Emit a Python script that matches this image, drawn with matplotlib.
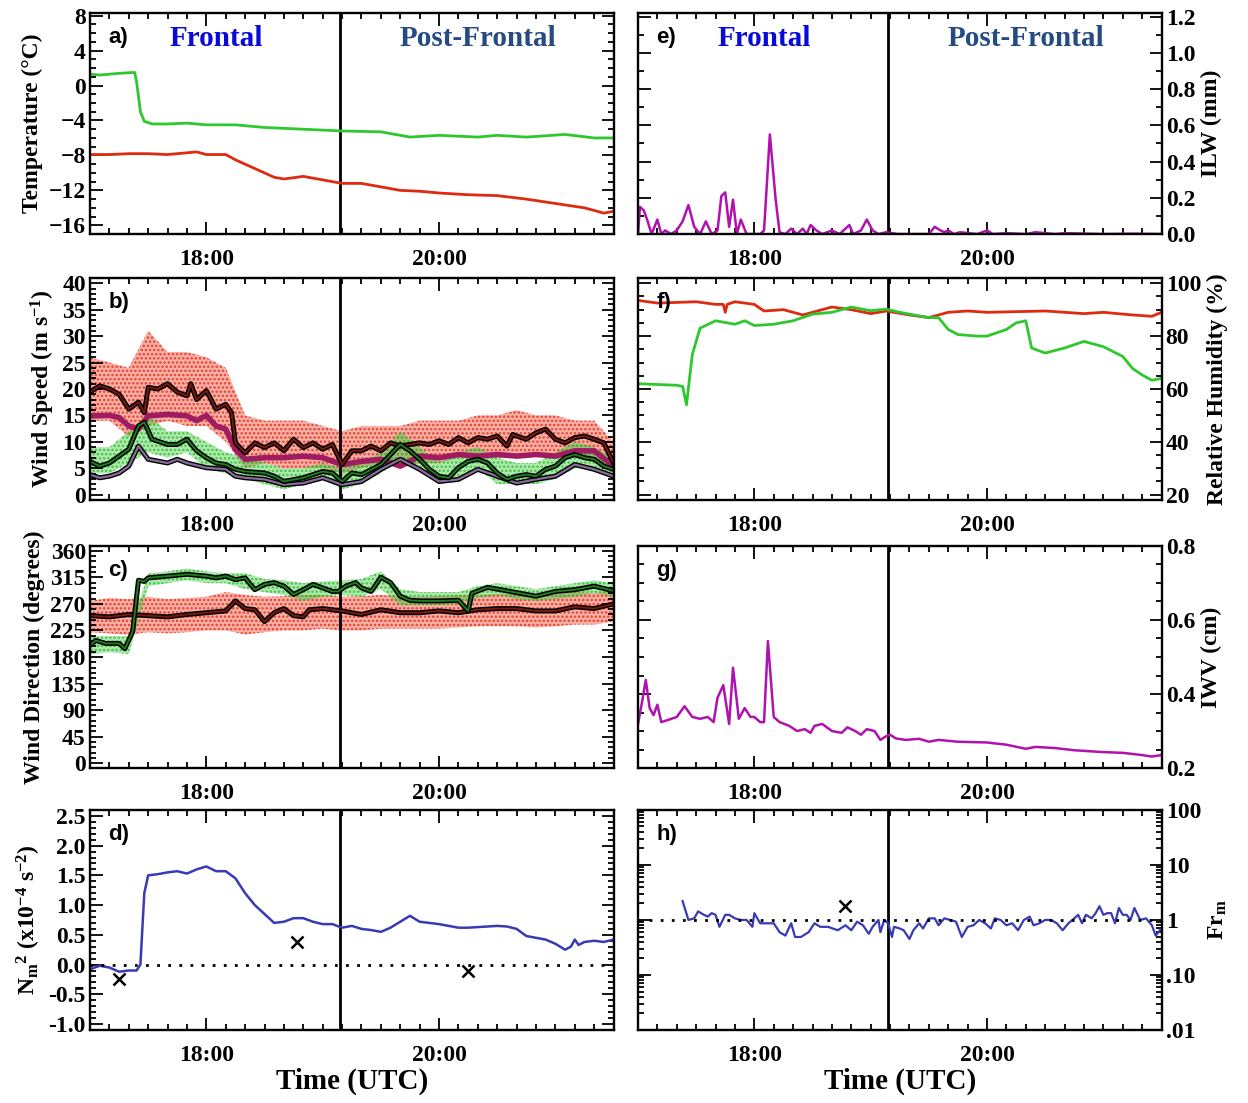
import numpy as np
import matplotlib
matplotlib.use("Agg")
import matplotlib.pyplot as plt
import matplotlib.patheffects as pe
from matplotlib.ticker import AutoMinorLocator, FixedLocator, FixedFormatter, MultipleLocator

plt.rcParams['font.family'] = 'Liberation Serif'
plt.rcParams['font.weight'] = 'bold'
plt.rcParams['axes.labelweight'] = 'bold'
plt.rcParams['mathtext.default'] = 'regular'
plt.rcParams['hatch.linewidth'] = 1.2

# ---------------- data (minutes after 17:00 UTC) ----------------
front_time = 129  # 19:09

# a) temperature
ta_green_min = [0, 5, 15, 23, 24, 26, 28, 32, 40, 50, 60, 75, 90, 110, 130, 150, 165, 180, 200, 210, 225, 245, 260, 270]
ta_green = [1.3, 1.2, 1.4, 1.5, 0.5, -3.0, -4.1, -4.4, -4.4, -4.3, -4.5, -4.5, -4.8, -5.0, -5.2, -5.3, -5.9, -5.7, -5.9, -5.7, -5.9, -5.6, -6.0, -6.0]
ta_red_min = [0, 10, 20, 30, 40, 55, 60, 70, 75, 85, 95, 100, 110, 120, 130, 140, 150, 160, 170, 180, 195, 210, 225, 240, 255, 265, 270]
ta_red = [-7.9, -7.9, -7.8, -7.8, -7.9, -7.6, -7.9, -7.9, -8.5, -9.5, -10.5, -10.7, -10.4, -10.8, -11.2, -11.2, -11.6, -12.0, -12.1, -12.3, -12.5, -12.6, -13.0, -13.5, -14.0, -14.6, -14.4]

# b) wind speed
env_min = list(range(0, 271, 10))
ws_red_hi = [26, 25, 24, 31, 27, 27, 26, 24, 15, 14, 14, 14, 13, 12, 13, 13, 13, 14, 14, 14, 15, 15, 16, 15, 15, 14, 14, 10]
ws_red_lo = [14, 14, 11, 13, 14, 13, 13, 10, 5, 6, 5, 5, 5, 4, 5, 6, 5, 6, 6, 7, 7, 7, 7, 8, 7, 7, 7, 4]
ws_grn_hi = [9, 9, 12, 15, 12, 12, 10, 8, 7, 6, 5, 5, 6, 5, 6, 8, 12, 9, 6, 8, 9, 7, 6, 6, 8, 10, 9, 7]
ws_grn_lo = [4, 4, 6, 8, 7, 8, 5, 4, 3, 2, 1, 2, 3, 1, 2, 4, 7, 5, 2, 3, 5, 2, 2, 2, 3, 5, 5, 3]

wsr_min = [0, 5, 10, 15, 20, 25, 28, 30, 35, 40, 45, 50, 52, 55, 60, 65, 70, 73, 75, 80, 85, 90, 95, 100, 105, 110, 115, 120, 125, 130, 135, 140, 145, 150, 155, 160, 165, 170, 175, 180, 185, 190, 195, 200, 205, 210, 215, 218, 220, 225, 230, 235, 240, 245, 250, 255, 260, 265, 270]
wsr = [19.4, 20.6, 20.0, 19.0, 16.2, 17.5, 15.5, 20.3, 20.0, 21.0, 19.4, 18.7, 21.0, 18.0, 19.7, 16.2, 17.1, 15.5, 9.8, 7.9, 9.8, 8.9, 9.8, 8.3, 10.5, 8.9, 9.8, 8.6, 9.5, 5.7, 8.3, 8.3, 9.2, 8.3, 9.8, 9.2, 9.5, 9.8, 9.5, 10.2, 9.5, 10.8, 9.8, 10.8, 10.5, 11.1, 9.2, 11.4, 11.1, 10.5, 11.7, 12.4, 10.5, 9.8, 10.8, 11.1, 10.5, 9.8, 6.0]
wsm_min = [0, 10, 15, 20, 25, 30, 40, 50, 55, 60, 65, 70, 75, 80, 90, 100, 110, 120, 130, 140, 150, 160, 170, 180, 190, 200, 210, 220, 230, 240, 250, 260, 270]
wsm = [14.9, 15.0, 14.6, 13.0, 12.4, 14.9, 15.2, 14.9, 14.0, 15.0, 13.0, 12.4, 8.6, 6.7, 7.0, 7.0, 7.3, 7.0, 5.7, 6.3, 6.7, 5.4, 7.3, 7.0, 7.6, 7.3, 7.6, 7.3, 7.6, 7.3, 8.3, 8.3, 5.4]
wsg_min = [0, 5, 10, 15, 20, 25, 28, 32, 40, 45, 50, 55, 60, 65, 70, 75, 80, 90, 95, 100, 110, 120, 125, 130, 135, 140, 150, 155, 160, 165, 170, 175, 180, 185, 190, 195, 200, 205, 210, 215, 220, 225, 230, 235, 240, 245, 250, 255, 260, 265, 270]
wsg = [6.3, 5.4, 6.0, 7.3, 8.6, 13.0, 13.7, 10.5, 9.5, 9.5, 10.5, 8.3, 7.0, 6.0, 5.7, 4.8, 4.4, 4.1, 3.5, 2.5, 3.2, 4.4, 4.1, 2.5, 4.1, 3.8, 5.7, 7.6, 9.5, 8.3, 6.7, 4.8, 3.5, 3.2, 5.1, 6.3, 6.7, 6.0, 4.1, 2.9, 3.5, 3.8, 3.5, 4.8, 5.4, 7.0, 7.6, 7.0, 6.7, 5.4, 4.8]
wsp_min = [0, 5, 10, 15, 20, 25, 30, 40, 45, 50, 60, 70, 75, 80, 90, 100, 110, 120, 130, 140, 150, 160, 170, 180, 190, 200, 210, 220, 230, 240, 250, 260, 270]
wsp = [3.8, 3.2, 3.5, 4.1, 5.4, 9.2, 6.7, 6.0, 6.7, 6.0, 5.1, 4.8, 3.5, 3.2, 2.9, 1.9, 2.2, 3.2, 1.9, 2.5, 4.8, 6.7, 4.8, 2.5, 2.9, 4.8, 3.5, 2.2, 2.9, 3.5, 5.7, 4.8, 3.5]

# c) wind direction
wd_red_hi = [275, 280, 278, 282, 278, 280, 282, 290, 285, 282, 283, 285, 285, 282, 283, 285, 283, 282, 283, 285, 285, 287, 287, 285, 287, 290, 288, 292]
wd_red_lo = [222, 220, 218, 222, 220, 222, 225, 225, 218, 222, 225, 225, 228, 225, 225, 228, 228, 228, 228, 230, 232, 232, 232, 230, 232, 235, 235, 240]
wd_grn_hi = [215, 215, 215, 322, 325, 330, 325, 322, 322, 312, 310, 305, 308, 310, 312, 325, 295, 290, 290, 290, 300, 305, 300, 295, 300, 305, 310, 305]
wd_grn_lo = [185, 188, 185, 300, 305, 310, 305, 305, 295, 290, 285, 275, 282, 285, 282, 295, 268, 268, 268, 270, 280, 285, 278, 275, 278, 282, 288, 282]
wdg_min = [0, 3, 8, 15, 18, 22, 25, 28, 30, 40, 50, 60, 65, 70, 75, 80, 85, 90, 95, 100, 105, 110, 115, 120, 125, 128, 132, 137, 140, 145, 150, 155, 160, 165, 170, 180, 190, 195, 197, 205, 210, 220, 230, 240, 250, 260, 270]
wdg = [200, 208, 203, 203, 194, 223, 310, 308, 314, 317, 320, 317, 314, 317, 311, 314, 294, 303, 306, 300, 286, 294, 303, 297, 291, 291, 300, 306, 297, 291, 315, 306, 283, 276, 275, 275, 276, 258, 288, 298, 295, 289, 283, 291, 294, 300, 292]
wdr_min = [0, 10, 20, 30, 40, 50, 60, 70, 75, 80, 85, 90, 95, 100, 105, 110, 113, 120, 130, 140, 150, 160, 170, 180, 190, 200, 210, 220, 230, 240, 250, 260, 270]
wdr = [250, 248, 252, 250, 248, 252, 255, 258, 275, 262, 260, 240, 255, 262, 250, 248, 260, 262, 258, 252, 260, 255, 255, 258, 255, 260, 262, 262, 258, 258, 265, 262, 270]

# d) N_m^2
n2_min = [0, 5, 10, 15, 20, 24, 26, 28, 30, 35, 40, 45, 50, 55, 60, 65, 70, 75, 80, 85, 90, 95, 100, 105, 110, 115, 120, 125, 130, 135, 140, 145, 150, 155, 160, 165, 170, 175, 180, 185, 190, 195, 200, 205, 210, 215, 220, 225, 230, 235, 240, 245, 248, 250, 252, 255, 260, 265, 270]
n2 = [-0.08, -0.02, -0.05, -0.12, -0.10, -0.10, 0.0, 1.2, 1.5, 1.52, 1.55, 1.57, 1.53, 1.6, 1.65, 1.57, 1.57, 1.45, 1.2, 1.0, 0.85, 0.7, 0.72, 0.78, 0.78, 0.72, 0.68, 0.68, 0.62, 0.65, 0.6, 0.58, 0.55, 0.62, 0.72, 0.82, 0.72, 0.7, 0.68, 0.65, 0.62, 0.62, 0.63, 0.64, 0.65, 0.64, 0.6, 0.48, 0.45, 0.42, 0.35, 0.25, 0.3, 0.42, 0.33, 0.38, 0.4, 0.38, 0.42]
n2_x_min = [15, 107, 195]
n2_x = [-0.25, 0.38, -0.1]

# e) ILW
ilw_min = [0, 1, 3, 5, 7, 10, 12, 14, 17, 20, 23, 26, 29, 32, 35, 38, 41, 43, 45, 47, 49, 51, 53, 56, 59, 63, 65, 68, 71, 73, 76, 79, 82, 85, 87, 89, 92, 95, 100, 104, 109, 111, 115, 118, 121, 124, 128, 134, 150, 153, 156, 158, 160, 163, 166, 175, 180, 183, 190, 200, 205, 215, 220, 240, 255, 270]
ilw = [0.0, 0.15, 0.13, 0.07, 0.0, 0.08, 0.0, 0.02, 0.0, 0.02, 0.07, 0.16, 0.04, 0.0, 0.07, 0.0, 0.02, 0.21, 0.23, 0.04, 0.19, 0.0, 0.08, 0.0, 0.0, 0.0, 0.02, 0.55, 0.19, 0.01, 0.0, 0.03, 0.0, 0.03, 0.0, 0.05, 0.02, 0.0, 0.02, 0.0, 0.05, 0.0, 0.02, 0.08, 0.02, 0.0, 0.01, 0.0, 0.0, 0.04, 0.02, 0.01, 0.02, 0.0, 0.01, 0.0, 0.02, 0.0, 0.005, 0.0, 0.01, 0.0, 0.005, 0.0, 0.002, 0.0]

# f) relative humidity
rhr_min = [0, 10, 30, 40, 44, 45, 46, 50, 60, 65, 75, 85, 90, 100, 110, 120, 128, 140, 150, 160, 170, 180, 210, 230, 240, 255, 265, 270]
rhr = [93.5, 92.5, 93, 92, 92, 89, 92, 93, 92, 89.5, 90, 88, 89, 91, 90, 88.5, 89.5, 88, 87, 89, 89.5, 89, 89.5, 88.5, 89, 88, 87.5, 89]
rhg_min = [0, 20, 23, 25, 28, 32, 40, 50, 55, 60, 70, 80, 90, 100, 110, 120, 128, 135, 140, 150, 155, 160, 165, 175, 180, 190, 195, 200, 203, 210, 220, 230, 240, 250, 255, 260, 265, 270]
rhg = [62, 61.4, 61, 54, 73, 83, 85.8, 84.5, 85.8, 84, 84.5, 85.8, 88.3, 89, 91, 89.6, 90.2, 89, 88.3, 87, 87, 82.5, 80.6, 80, 80, 82.5, 85, 85.8, 75.5, 73.6, 75.5, 78, 76, 72.3, 67.8, 65.3, 63.3, 64]

# g) IWV
iwv_min = [0, 2, 4, 6, 8, 10, 12, 15, 20, 24, 28, 32, 36, 39, 41, 44, 47, 49, 52, 55, 58, 60, 63, 65, 67, 70, 73, 78, 82, 86, 89, 91, 95, 100, 105, 108, 112, 115, 118, 122, 125, 128, 130, 133, 138, 145, 150, 155, 165, 180, 190, 200, 205, 215, 225, 240, 250, 260, 265, 270]
iwv = [0.319, 0.376, 0.438, 0.362, 0.343, 0.371, 0.324, 0.329, 0.338, 0.367, 0.338, 0.333, 0.338, 0.324, 0.39, 0.424, 0.319, 0.471, 0.333, 0.362, 0.338, 0.338, 0.324, 0.324, 0.543, 0.338, 0.324, 0.314, 0.3, 0.305, 0.295, 0.314, 0.319, 0.3, 0.295, 0.31, 0.3, 0.29, 0.305, 0.3, 0.276, 0.286, 0.29, 0.28, 0.276, 0.279, 0.271, 0.276, 0.271, 0.269, 0.263, 0.252, 0.257, 0.254, 0.248, 0.243, 0.241, 0.235, 0.231, 0.235]

# h) Froude number
fr_min = [23, 26, 29, 31, 34, 36, 38, 40, 42, 45, 47, 50, 53, 56, 59, 60, 63, 66, 68, 70, 73, 76, 79, 81, 84, 88, 91, 94, 98, 103, 107, 110, 113, 116, 119, 121, 124, 125, 127, 129, 131, 132, 135, 137, 140, 142, 145, 147, 150, 153, 155, 158, 161, 164, 167, 170, 173, 176, 179, 182, 184, 187, 190, 193, 196, 199, 202, 204, 207, 210, 213, 216, 219, 222, 225, 227, 229, 231, 234, 236, 238, 240, 242, 244, 246, 248, 250, 252, 254, 256, 259, 262, 265, 267, 270]
fr = [2.2, 1.0, 1.07, 1.43, 1.24, 1.15, 1.33, 1.24, 0.75, 1.24, 1.24, 1.07, 1.0, 1.0, 0.75, 1.33, 0.87, 0.87, 0.87, 0.87, 0.6, 0.52, 0.87, 0.49, 0.49, 0.6, 0.87, 0.75, 0.75, 0.65, 0.8, 0.65, 0.93, 0.8, 0.56, 0.75, 1.0, 0.6, 1.0, 0.87, 0.49, 0.75, 0.7, 0.65, 0.45, 0.65, 0.87, 0.7, 1.07, 1.07, 0.8, 1.07, 1.0, 0.93, 0.49, 0.75, 0.8, 1.0, 0.87, 0.7, 1.07, 1.0, 0.8, 0.87, 0.65, 1.0, 1.15, 0.8, 0.87, 1.0, 1.0, 0.87, 0.65, 0.87, 1.07, 1.24, 0.87, 1.24, 1.07, 1.33, 1.78, 1.24, 1.33, 1.33, 0.87, 1.65, 1.24, 1.24, 1.0, 1.65, 1.0, 1.07, 0.8, 0.52, 0.7]
fr_x_min = [107]
fr_x = [1.78]


def hrs(m):
    return 17 + np.asarray(m) / 60.0


def speckle(ax, lo, hi, color):
    # raw one-second samples shown as a dotted cloud between their spread
    ax.fill_between(hrs(env_min), lo, hi, facecolor=color, alpha=0.38, lw=0)
    ax.fill_between(hrs(env_min), lo, hi, facecolor='none', edgecolor=color,
                    hatch='....', lw=0, alpha=0.9)


# ---------------- figure ----------------
fig = plt.figure(figsize=(12.48, 11.03), dpi=100)
lefts = [90 / 1248, 638 / 1248]
w = 0.4195
rows = [(0.7878, 0.2004), (0.5467, 0.2013), (0.3037, 0.2013), (0.0662, 0.1995)]

axes = {}
names = [['a', 'e'], ['b', 'f'], ['c', 'g'], ['d', 'h']]
for r, (b, h) in enumerate(rows):
    for c in range(2):
        axes[names[r][c]] = fig.add_axes([lefts[c], b, w, h])

tick_fs = 17
for key, ax in axes.items():
    ax.set_xlim(17, 21.5)
    ax.xaxis.set_major_locator(FixedLocator([18, 20]))
    ax.xaxis.set_major_formatter(FixedFormatter(['18:00', '20:00']))
    ax.xaxis.set_minor_locator(MultipleLocator(1 / 6))
    ax.tick_params(which='both', direction='in', top=True, bottom=True, left=True, right=True,
                   labelsize=tick_fs, width=1.3)
    ax.tick_params(which='major', length=9)
    ax.tick_params(which='minor', length=4.5)
    ax.tick_params(axis='x', pad=11)
    ax.tick_params(axis='y', pad=3)
    for s in ax.spines.values():
        s.set_linewidth(1.7)
    ax.axvline(hrs(front_time), color='k', lw=2)
    if key in 'efgh':
        ax.tick_params(labelleft=False, labelright=True)
        ax.yaxis.set_label_position('right')
    ax.text(0.035, 0.89, key + ')', transform=ax.transAxes, fontsize=16, fontweight='bold',
            family='Liberation Sans', va='center', ha='left')

for key in ('a', 'e'):
    ax = axes[key]
    ax.text(hrs(65), 0.885, 'Frontal', transform=ax.get_xaxis_transform(), color='#0a0ad8',
            fontsize=21, fontweight='bold', ha='center', va='center')
    ax.text(hrs(200), 0.885, 'Post-Frontal', transform=ax.get_xaxis_transform(), color='#264a82',
            fontsize=21, fontweight='bold', ha='center', va='center')

lab_fs = 17
outline = [pe.Stroke(linewidth=3.6, foreground='k'), pe.Normal()]

# a)
ax = axes['a']
ax.plot(hrs(ta_green_min), ta_green, color='#2ec82e', lw=2)
ax.plot(hrs(ta_red_min), ta_red, color='#dd2a10', lw=2)
ax.set_ylim(-17, 8.3)
ax.yaxis.set_major_locator(MultipleLocator(4))
ax.yaxis.set_minor_locator(AutoMinorLocator(4))
ax.set_ylabel('Temperature (°C)', fontsize=lab_fs, fontweight='bold')

# b)
ax = axes['b']
speckle(ax, ws_red_lo, ws_red_hi, '#e8341c')
speckle(ax, ws_grn_lo, ws_grn_hi, '#33c433')
ax.plot(hrs(wsm_min), wsm, color='#a01c62', lw=4)
ax.plot(hrs(wsr_min), wsr, color='#7a1810', lw=1.4, path_effects=outline)
ax.plot(hrs(wsp_min), wsp, color='#8a6c9c', lw=1.6, path_effects=outline)
ax.plot(hrs(wsg_min), wsg, color='#1f7a1f', lw=1.4, path_effects=outline)
ax.set_ylim(-1, 41)
ax.yaxis.set_major_locator(MultipleLocator(5))
ax.yaxis.set_minor_locator(AutoMinorLocator(5))
ax.set_ylabel('Wind Speed (m s$^{-1}$)', fontsize=lab_fs, fontweight='bold')

# c)
ax = axes['c']
speckle(ax, wd_red_lo, wd_red_hi, '#e8341c')
speckle(ax, wd_grn_lo, wd_grn_hi, '#33c433')
ax.plot(hrs(wdr_min), wdr, color='#7a1810', lw=1.4, path_effects=outline)
ax.plot(hrs(wdg_min), wdg, color='#1f7a1f', lw=1.4, path_effects=outline)
ax.set_ylim(-8, 368)
ax.yaxis.set_major_locator(MultipleLocator(45))
ax.yaxis.set_minor_locator(AutoMinorLocator(5))
ax.set_ylabel('Wind Direction (degrees)', fontsize=lab_fs, fontweight='bold')

# d)
ax = axes['d']
ax.plot(hrs(n2_min), n2, color='#3a3ab4', lw=1.8)
ax.axhline(0, color='k', ls=(0, (1, 3)), lw=2)
ax.plot(hrs(n2_x_min), n2_x, 'kx', ms=9, mew=1.8)
ax.set_ylim(-1.1, 2.6)
ax.yaxis.set_major_locator(MultipleLocator(0.5))
ax.yaxis.set_minor_locator(AutoMinorLocator(5))
ax.yaxis.set_major_formatter(plt.FormatStrFormatter('%.1f'))
ax.set_ylabel('N$_m$$^2$ (x10$^{-4}$ s$^{-2}$)', fontsize=lab_fs, fontweight='bold')
ax.set_xlabel('Time (UTC)', fontsize=21, fontweight='bold', labelpad=1)

# e)
ax = axes['e']
ax.plot(hrs(ilw_min), ilw, color='#b012b0', lw=1.8)
ax.set_ylim(0, 1.22)
ax.yaxis.set_major_locator(MultipleLocator(0.2))
ax.yaxis.set_minor_locator(AutoMinorLocator(2))
ax.yaxis.set_major_formatter(plt.FormatStrFormatter('%.1f'))
ax.set_ylabel('ILW (mm)', fontsize=lab_fs, fontweight='bold')

# f)
ax = axes['f']
ax.plot(hrs(rhr_min), rhr, color='#dd2a10', lw=2)
ax.plot(hrs(rhg_min), rhg, color='#2ec82e', lw=2)
ax.set_ylim(18, 102)
ax.yaxis.set_major_locator(MultipleLocator(20))
ax.yaxis.set_minor_locator(AutoMinorLocator(4))
ax.set_ylabel('Relative Humidity (%)', fontsize=lab_fs, fontweight='bold')

# g)
ax = axes['g']
ax.plot(hrs(iwv_min), iwv, color='#b012b0', lw=1.8)
ax.set_ylim(0.2, 0.8)
ax.yaxis.set_major_locator(MultipleLocator(0.2))
ax.yaxis.set_minor_locator(AutoMinorLocator(4))
ax.yaxis.set_major_formatter(plt.FormatStrFormatter('%.1f'))
ax.set_ylabel('IWV (cm)', fontsize=lab_fs, fontweight='bold')

# h)
ax = axes['h']
ax.set_yscale('log')
ax.plot(hrs(fr_min), fr, color='#3a3ab4', lw=1.6)
ax.axhline(1, color='k', ls=(0, (1, 3)), lw=2)
ax.plot(hrs(fr_x_min), fr_x, 'kx', ms=9, mew=1.8)
ax.set_ylim(0.01, 100)
ax.yaxis.set_major_locator(FixedLocator([0.01, 0.1, 1, 10, 100]))
ax.yaxis.set_major_formatter(FixedFormatter(['.01', '.10', '1', '10', '100']))
ax.set_ylabel('Fr$_m$', fontsize=lab_fs, fontweight='bold')
ax.set_xlabel('Time (UTC)', fontsize=21, fontweight='bold', labelpad=1)
ax.set_xlim(17, 21.5)

fig.savefig('out.png', dpi=100)
